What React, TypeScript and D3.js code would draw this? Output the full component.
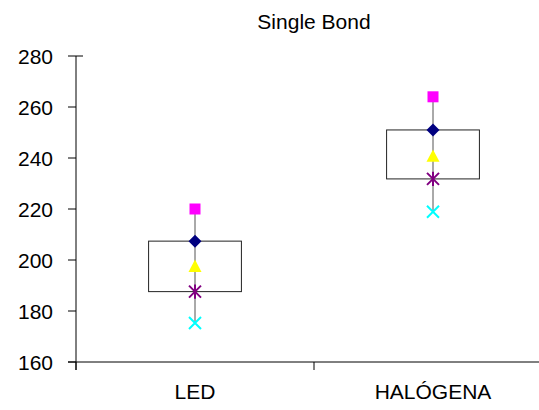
import React from 'react';
import * as d3 from 'd3';

// data
const categories = ['LED', 'HALÓGENA'];
const squareValues = [220, 264];
const diamondValues = [207.4, 251];
const triangleValues = [197.6, 240.8];
const starValues = [187.6, 231.8];
const crossValues = [175.3, 218.9];
const yTicks = [160, 180, 200, 220, 240, 260, 280];

const width = 539, height = 410;
const marginLeft = 76, plotRight = 552, marginTop = 56, plotBottom = 362;
const FONT = 'Liberation Sans, Arial, sans-serif';
const FS = 21;

const App = () => {
  const x = d3.scaleBand().domain(categories).range([marginLeft, plotRight]).padding(0);
  const y = d3.scaleLinear().domain([160, 280]).range([plotBottom, marginTop]);
  const bw = x.bandwidth();
  const boxW = bw * 0.39;

  const diamond = (s: number) => `M0,${-s}L${s},0L0,${s}L${-s},0Z`;
  const triangle = (s: number) => `M0,${-s}L${s},${s * 0.9}L${-s},${s * 0.9}Z`;
  const cross = (s: number) => `M${-s},${-s}L${s},${s}M${-s},${s}L${s},${-s}`;
  const star = (s: number) => `M${-s},${-s}L${s},${s}M${-s},${s}L${s},${-s}M0,${-s * 1.2}L0,${s * 1.2}`;

  return (
    <svg width={width} height={height} style={{ display: 'block', position: 'absolute', left: 0, top: 0 }}>
      <rect x={0} y={0} width={width} height={height} fill="#fff" />
      <text x={(marginLeft + plotRight) / 2} y={29} textAnchor="middle" fontFamily={FONT} fontSize={FS} fill="#000">
        Single Bond
      </text>

      {/* y axis */}
      <line x1={marginLeft} x2={marginLeft} y1={y(280)} y2={plotBottom + 8} stroke="#000" strokeWidth={1} />
      {yTicks.map(t => (
        <g key={t}>
          <line x1={marginLeft - 8} x2={t === 280 ? marginLeft + 7 : marginLeft} y1={y(t)} y2={y(t)} stroke="#000" />
          <text x={marginLeft - 23} y={y(t)} dy="0.36em" textAnchor="end" fontFamily={FONT} fontSize={FS} fill="#000">
            {t}
          </text>
        </g>
      ))}

      {/* x axis */}
      <line x1={marginLeft - 8} x2={plotRight} y1={plotBottom} y2={plotBottom} stroke="#000" />
      {[...categories.map(c => x(c) as number), plotRight].map((p, i) => (
        <line key={i} x1={p} x2={p} y1={plotBottom} y2={plotBottom + 8} stroke="#000" />
      ))}
      {categories.map(c => (
        <text key={c} x={(x(c) as number) + bw / 2} y={399} textAnchor="middle" fontFamily={FONT} fontSize={FS} fill="#000">
          {c}
        </text>
      ))}

      {/* boxes, whiskers, markers */}
      {categories.map((c, i) => {
        const cx = (x(c) as number) + bw / 2;
        return (
          <g key={c}>
            <rect x={cx - boxW / 2} y={y(diamondValues[i])} width={boxW} height={y(starValues[i]) - y(diamondValues[i])}
              fill="#fff" stroke="#222" strokeWidth={1} />
            <line x1={cx} x2={cx} y1={y(squareValues[i])} y2={y(crossValues[i])} stroke="#555" strokeWidth={1} />
            <rect x={cx - 5.5} y={y(squareValues[i]) - 5.5} width={11} height={11} fill="#FF00FF" />
            <path d={diamond(6.5)} transform={`translate(${cx},${y(diamondValues[i])})`} fill="#000080" />
            <path d={triangle(6.5)} transform={`translate(${cx},${y(triangleValues[i])})`} fill="#FFFF00" />
            <path d={star(6)} transform={`translate(${cx},${y(starValues[i])})`} fill="none" stroke="#800080" strokeWidth={2} />
            <path d={cross(6)} transform={`translate(${cx},${y(crossValues[i])})`} fill="none" stroke="#00FFFF" strokeWidth={2} />
          </g>
        );
      })}
    </svg>
  );
};

export default App;
